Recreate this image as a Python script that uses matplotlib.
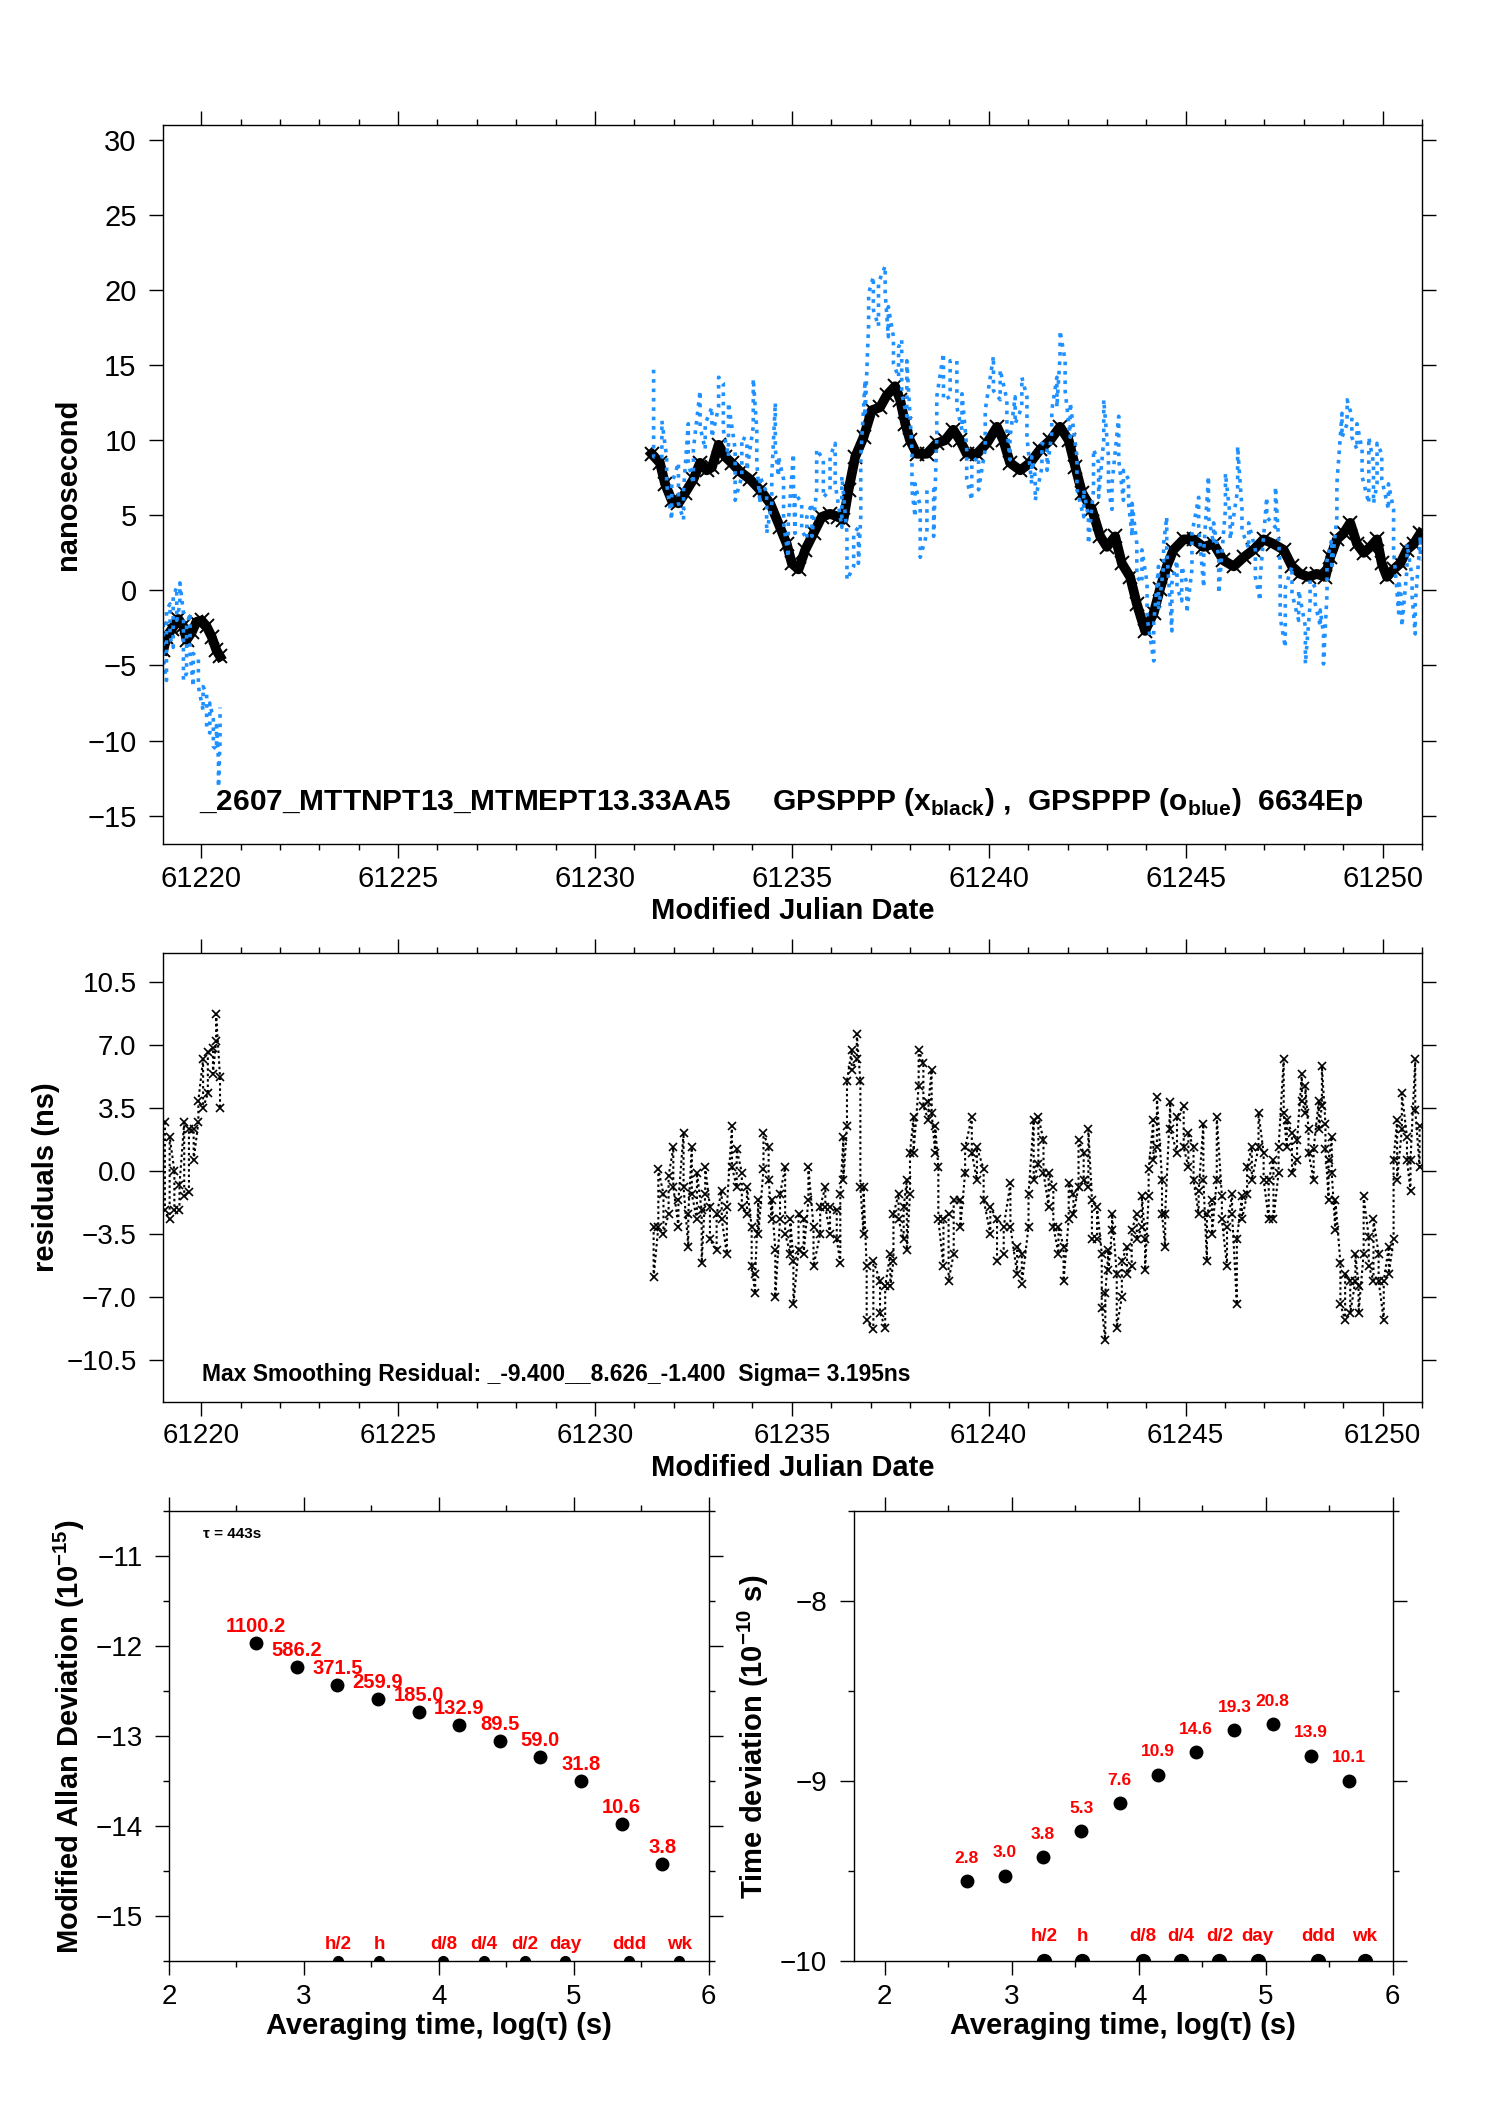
import numpy as np
import matplotlib
matplotlib.use('Agg')
import matplotlib.pyplot as plt
from matplotlib.ticker import MultipleLocator, FixedLocator, FuncFormatter

plt.rcParams['font.family'] = ['Liberation Sans', 'DejaVu Sans']
plt.rcParams['mathtext.fontset'] = 'custom'
plt.rcParams['mathtext.rm'] = 'Liberation Sans'
plt.rcParams['mathtext.bf'] = 'Liberation Sans:bold'

# ---- top panel: GPSPPP black (x) series (MJD, ns)
black_day = [61219.04, 61219.12, 61219.25, 61219.42, 61219.55, 61219.63, 61219.76, 61219.88,
             61220.01, 61220.14, 61220.27, 61220.39, 61220.48,
             61231.44, 61231.65, 61231.78, 61231.95, 61232.12, 61232.29, 61232.50, 61232.67,
             61232.84, 61232.97, 61233.14, 61233.31, 61233.47, 61233.69, 61233.94, 61234.19,
             61234.45, 61234.70, 61234.87, 61235.00, 61235.17, 61235.34, 61235.55, 61235.76,
             61235.97, 61236.18, 61236.31, 61236.44, 61236.61, 61236.82, 61237.03, 61237.24,
             61237.41, 61237.62, 61237.75, 61237.88, 61238.00, 61238.17, 61238.43, 61238.68,
             61238.89, 61239.10, 61239.27, 61239.44, 61239.70, 61239.95, 61240.21, 61240.37,
             61240.54, 61240.80, 61241.05, 61241.31, 61241.56, 61241.81, 61242.03, 61242.20,
             61242.37, 61242.62, 61242.83, 61243.00, 61243.21, 61243.38, 61243.59, 61243.76,
             61243.97, 61244.19, 61244.35, 61244.52, 61244.69, 61244.95, 61245.20, 61245.45,
             61245.71, 61245.96, 61246.22, 61246.47, 61246.72, 61246.98, 61247.23, 61247.49,
             61247.70, 61247.91, 61248.12, 61248.33, 61248.55, 61248.67, 61248.84, 61249.01,
             61249.18, 61249.35, 61249.52, 61249.69, 61249.86, 61249.98, 61250.11, 61250.28,
             61250.45, 61250.62, 61250.79, 61250.96]
black_ns = [-4.0, -3.1, -2.6, -1.9, -2.4, -3.3, -2.8, -2.1,
            -2.0, -2.4, -3.1, -4.0, -4.4,
            9.1, 8.5, 7.1, 6.0, 5.8, 6.5, 7.4, 8.5,
            8.0, 8.2, 9.7, 8.9, 8.5, 7.9, 7.4, 6.7,
            5.8, 4.2, 3.1, 1.8, 1.4, 2.7, 3.8, 4.9,
            5.1, 4.9, 4.7, 6.7, 8.9, 10.2, 12.0, 12.2,
            13.0, 13.6, 12.7, 11.1, 10.0, 9.1, 9.1, 9.8,
            10.0, 10.7, 10.0, 9.1, 9.1, 9.8, 10.9, 10.0,
            8.5, 8.0, 8.5, 9.4, 10.0, 10.9, 10.0, 8.2,
            6.5, 5.4, 3.6, 2.9, 3.6, 1.8, 0.9, -0.9,
            -2.7, -1.5, 0.1, 1.6, 2.7, 3.4, 3.4, 2.9,
            3.1, 2.0, 1.6, 2.2, 2.7, 3.4, 3.1, 2.7,
            1.6, 1.1, 0.9, 1.1, 0.9, 2.2, 3.4, 3.8,
            4.5, 3.1, 2.5, 2.9, 3.4, 1.8, 0.9, 1.4,
            1.8, 2.7, 3.1, 3.8]

# ---- top panel: GPSPPP blue (o) series, vertical streaks (MJD, top, bottom in ns)
blue_day = [61219.04, 61219.12, 61219.21, 61219.29, 61219.38, 61219.46, 61219.55, 61219.63,
            61219.72, 61219.80, 61219.93, 61220.05, 61220.14, 61220.22, 61220.31, 61220.39,
            61220.44, 61220.48,
            61231.49, 61231.70, 61231.82, 61231.95, 61232.12, 61232.25, 61232.37, 61232.50,
            61232.67, 61232.80, 61232.97, 61233.14, 61233.26, 61233.39, 61233.56, 61233.73,
            61233.86, 61234.02, 61234.11, 61234.19, 61234.36, 61234.49, 61234.58, 61234.66,
            61234.79, 61234.91, 61235.04, 61235.08, 61235.25, 61235.38, 61235.51, 61235.63,
            61235.80, 61235.97, 61236.10, 61236.27, 61236.40, 61236.57, 61236.69, 61236.75,
            61236.86, 61236.95, 61237.07, 61237.20, 61237.37, 61237.45, 61237.58, 61237.71,
            61237.79, 61237.92, 61238.05, 61238.13, 61238.26, 61238.43, 61238.60, 61238.68,
            61238.85, 61239.02, 61239.19, 61239.32, 61239.44, 61239.57, 61239.74, 61239.91,
            61240.12, 61240.29, 61240.46, 61240.54, 61240.67, 61240.84, 61240.97, 61241.09,
            61241.18, 61241.35, 61241.48, 61241.60, 61241.73, 61241.81, 61241.94, 61242.07,
            61242.24, 61242.41, 61242.53, 61242.66, 61242.79, 61242.92, 61243.04, 61243.13,
            61243.30, 61243.42, 61243.55, 61243.64, 61243.76, 61243.89, 61244.02, 61244.19,
            61244.31, 61244.44, 61244.52, 61244.65, 61244.78, 61244.90, 61245.03, 61245.16,
            61245.33, 61245.46, 61245.58, 61245.71, 61245.84, 61246.01, 61246.13, 61246.32,
            61246.43, 61246.60, 61246.77, 61246.89, 61247.06, 61247.28, 61247.40, 61247.53,
            61247.70, 61247.87, 61248.04, 61248.16, 61248.29, 61248.42, 61248.50, 61248.59,
            61248.71, 61248.84, 61248.97, 61249.10, 61249.22, 61249.35, 61249.48, 61249.65,
            61249.77, 61249.86, 61249.98, 61250.15, 61250.28, 61250.41, 61250.49, 61250.62,
            61250.75, 61250.83, 61250.96]
blue_hi = [-2.2, -1.3, -0.9, -0.4, 0.2, 0.5, -1.5, -2.4,
           -1.5, -4.2, -4.6, -6.4, -6.9, -7.5, -8.6, -9.0,
           -11.3, -7.8,
           14.7, 11.3, 8.9, 7.1, 8.5, 6.7, 11.1, 9.4,
           13.3, 11.1, 12.2, 14.2, 13.8, 12.5, 9.4, 10.2,
           10.0, 14.1, 10.7, 7.6, 6.5, 7.6, 12.5, 8.9,
           7.4, 4.5, 9.1, 6.5, 5.8, 4.9, 5.8, 9.4,
           8.7, 8.9, 9.8, 7.6, 3.8, 3.8, 4.2, 8.9,
           14.0, 19.8, 20.9, 20.5, 21.6, 18.9, 16.9, 16.2,
           16.7, 15.3, 9.4, 7.1, 5.6, 6.7, 6.7, 12.9,
           15.8, 15.3, 15.3, 13.1, 9.6, 8.5, 8.9, 12.0,
           15.6, 14.7, 12.7, 10.2, 12.9, 14.2, 12.9, 8.9,
           7.6, 9.8, 9.6, 12.0, 14.2, 17.3, 15.3, 12.5,
           8.9, 6.7, 4.9, 9.4, 8.5, 12.7, 8.9, 7.1,
           11.6, 8.0, 7.4, 5.8, 3.1, 2.7, 0.5, -2.2,
           1.6, 3.1, 4.9, 0.5, 2.0, 1.6, 0.5, 3.8,
           6.2, 2.7, 7.6, 4.5, 2.2, 7.8, 4.9, 9.6,
           5.4, 4.5, 2.7, 0.7, 6.2, 6.9, 1.6, 0.2,
           1.6, 0.0, -2.4, 0.7, 0.2, -1.3, -2.9, 2.0,
           3.4, 7.1, 11.8, 12.7, 11.6, 11.1, 9.4, 10.2,
           8.5, 9.8, 9.1, 7.1, 5.4, 0.7, -0.7, 3.1,
           0.9, -0.9, 3.6]
blue_lo = [-4.6, -6.0, -3.1, -3.8, -2.0, -0.9, -6.0, -5.5,
           -4.2, -6.4, -6.4, -8.0, -9.1, -9.5, -10.4, -10.6,
           -13.1, -10.0,
           8.9, 8.9, 7.1, 4.7, 5.8, 4.7, 8.5, 7.1,
           10.9, 9.4, 10.2, 12.2, 10.7, 8.9, 6.0, 7.6,
           8.0, 10.9, 8.5, 5.8, 3.8, 5.8, 9.4, 7.6,
           4.5, 2.2, 7.1, 3.8, 4.0, 3.4, 3.6, 6.7,
           6.2, 6.7, 7.1, 4.2, 0.7, 1.6, 1.8, 4.9,
           11.6, 17.8, 18.7, 17.6, 19.8, 16.9, 15.1, 14.2,
           13.1, 11.6, 6.7, 4.9, 2.2, 3.8, 3.6, 10.2,
           12.7, 12.9, 12.2, 10.7, 7.4, 6.0, 6.7, 9.4,
           13.3, 12.7, 10.7, 8.7, 11.1, 12.2, 10.2, 7.1,
           6.0, 8.2, 8.0, 10.5, 12.2, 15.6, 13.3, 10.2,
           6.7, 4.9, 3.1, 6.7, 6.2, 10.0, 6.7, 5.4,
           8.7, 6.0, 5.8, 3.6, 0.9, 0.5, -1.8, -4.7,
           -1.3, 1.6, 2.7, -2.7, 0.2, -0.7, -1.5, 1.4,
           4.2, 0.2, 4.9, 3.1, -0.2, 5.4, 3.4, 6.7,
           4.0, 2.8, 0.9, -0.7, 4.9, 4.2, -1.8, -3.8,
           -0.2, -2.0, -4.9, -0.9, -0.9, -2.4, -4.9, -0.2,
           1.4, 4.9, 10.2, 11.1, 10.2, 9.4, 7.6, 5.8,
           5.8, 7.1, 7.4, 5.4, 2.7, -1.5, -2.4, 1.4,
           -0.4, -2.9, 2.0]

# ---- middle panel: smoothing residuals, vertical streaks (MJD, top, bottom in ns)
res_day = [61219.08, 61219.20, 61219.32, 61219.45, 61219.57, 61219.69, 61219.81, 61219.93,
           61220.05, 61220.17, 61220.30, 61220.38, 61220.48,
           61231.49, 61231.61, 61231.74, 61231.87, 61231.99, 61232.12, 61232.25, 61232.37,
           61232.46, 61232.59, 61232.71, 61232.80, 61232.92, 61233.09, 61233.22, 61233.35,
           61233.48, 61233.60, 61233.73, 61233.86, 61233.98, 61234.07, 61234.15, 61234.28,
           61234.41, 61234.49, 61234.58, 61234.70, 61234.83, 61234.96, 61235.04, 61235.17,
           61235.30, 61235.42, 61235.55, 61235.72, 61235.85, 61235.97, 61236.14, 61236.23,
           61236.31, 61236.40, 61236.52, 61236.65, 61236.74, 61236.82, 61236.90, 61237.07,
           61237.24, 61237.37, 61237.50, 61237.58, 61237.71, 61237.84, 61237.92, 61238.00,
           61238.09, 61238.22, 61238.34, 61238.47, 61238.55, 61238.64, 61238.72, 61238.85,
           61238.98, 61239.11, 61239.28, 61239.40, 61239.57, 61239.70, 61239.87, 61240.04,
           61240.21, 61240.38, 61240.55, 61240.72, 61240.84, 61241.01, 61241.14, 61241.26,
           61241.39, 61241.52, 61241.64, 61241.77, 61241.90, 61242.03, 61242.15, 61242.28,
           61242.41, 61242.53, 61242.62, 61242.75, 61242.87, 61242.96, 61243.04, 61243.13,
           61243.25, 61243.38, 61243.51, 61243.63, 61243.76, 61243.89, 61243.97, 61244.06,
           61244.18, 61244.27, 61244.40, 61244.48, 61244.61, 61244.78, 61244.95, 61245.07,
           61245.20, 61245.33, 61245.45, 61245.54, 61245.67, 61245.79, 61245.92, 61246.05,
           61246.18, 61246.30, 61246.43, 61246.56, 61246.68, 61246.85, 61246.98, 61247.11,
           61247.23, 61247.36, 61247.49, 61247.57, 61247.70, 61247.83, 61247.95, 61248.04,
           61248.12, 61248.25, 61248.38, 61248.46, 61248.55, 61248.63, 61248.71, 61248.80,
           61248.93, 61249.05, 61249.18, 61249.31, 61249.39, 61249.52, 61249.65, 61249.77,
           61249.90, 61250.03, 61250.16, 61250.28, 61250.37, 61250.49, 61250.62, 61250.71,
           61250.83, 61250.94]
res_hi = [2.7, 1.9, 0.0, -0.8, 2.7, 2.3, 2.3, 3.9,
          6.2, 6.6, 6.8, 8.7, 5.2,
          -3.1, 0.1, -1.3, -0.3, 1.3, -1.6, 2.1, -2.4,
          1.3, -0.1, -2.2, 0.2, -2.0, -2.4, -1.1, -2.0,
          2.5, 1.2, -0.1, -0.9, -3.1, -5.7, -1.6, 2.1,
          1.3, -1.6, -4.4, -1.3, 0.2, -2.7, -5.0, -2.4,
          -2.7, 0.2, -3.1, -2.0, -0.9, -2.0, -2.2, -1.3,
          1.9, 5.0, 6.7, 7.6, 5.0, -0.9, -5.3, -5.0,
          -6.1, -6.4, -4.6, -2.4, -1.3, -2.0, -0.5, 1.0,
          3.0, 6.7, 6.0, 3.8, 5.6, 2.5, 0.2, -2.7,
          -2.4, -1.6, -1.6, 1.3, 3.0, 1.3, 0.1, -2.0,
          -2.7, -3.1, -0.7, -4.2, -4.6, -1.3, 2.8, 3.0,
          1.7, -0.1, -0.9, -3.1, -4.2, -0.7, -1.3, 1.7,
          1.0, 2.3, -1.6, -2.0, -4.6, -6.8, -4.4, -2.4,
          -5.7, -5.0, -4.2, -3.3, -2.4, -1.4, -3.8, 0.1,
          2.8, 4.1, -0.5, -2.4, 3.8, 3.0, 3.6, 2.1,
          1.3, -1.1, 2.6, -2.4, -1.6, 3.0, -1.4, -3.1,
          -1.3, -3.8, -1.4, 0.2, 1.3, 3.2, 1.0, -0.5,
          0.6, 1.3, 6.2, 2.8, 2.1, 1.7, 5.4, 4.7,
          2.3, 1.2, 3.9, 5.8, 2.6, 0.6, 1.9, -1.6,
          -5.1, -5.7, -6.1, -4.6, -6.4, -1.4, -3.7, -2.7,
          -4.6, -6.1, -4.2, 0.6, 2.8, 4.3, 1.9, 0.6,
          6.2, 2.5]
res_lo = [-2.2, -2.7, -2.2, -2.2, -1.4, -1.2, 0.6, 2.7,
          3.5, 4.3, 5.4, 7.2, 3.5,
          -5.9, -3.1, -3.5, -2.4, -0.9, -3.1, -0.9, -4.2,
          -1.3, -2.7, -5.1, -1.3, -3.8, -4.4, -2.7, -4.6,
          0.2, -0.9, -2.0, -2.4, -5.3, -6.8, -3.5, 0.1,
          -0.5, -2.7, -7.0, -2.7, -3.5, -4.6, -7.4, -4.4,
          -4.6, -1.6, -5.3, -3.5, -2.0, -3.5, -3.8, -5.1,
          -0.5, 2.5, 5.6, 6.2, -0.9, -3.5, -8.3, -8.8,
          -7.9, -8.7, -6.4, -5.0, -2.7, -3.8, -4.4, -1.3,
          1.0, 4.7, 3.6, 2.8, 3.2, 1.0, -2.7, -5.3,
          -6.1, -4.6, -3.1, -0.1, 1.0, -0.5, -1.6, -3.5,
          -5.0, -4.6, -3.1, -5.7, -6.3, -3.1, -0.5, 0.4,
          -0.1, -2.0, -3.1, -4.6, -6.1, -2.7, -2.4, -0.9,
          -0.5, -0.9, -3.8, -3.8, -7.6, -9.4, -5.5, -3.3,
          -8.7, -7.0, -5.7, -5.3, -3.8, -3.1, -5.5, -1.4,
          0.6, 1.3, -2.4, -4.2, 2.3, 1.0, 1.3, 0.2,
          -0.5, -2.4, -0.5, -5.0, -3.5, -0.5, -2.7, -5.3,
          -2.4, -7.4, -2.7, -1.3, -0.5, 1.3, -0.5, -2.7,
          -2.7, -0.1, 3.2, 1.3, -0.1, 0.6, 3.9, 3.2,
          1.0, -0.5, 2.3, 3.6, 1.2, -1.6, -0.1, -3.3,
          -7.4, -8.3, -7.9, -6.1, -7.9, -4.6, -5.3, -6.1,
          -6.1, -8.3, -5.7, -3.8, -0.5, 2.3, 0.6, -1.1,
          3.4, 0.2]

# ---- bottom panels: stability statistics
tau_s = [443, 886, 1772, 3544, 7088, 14176, 28352, 56704, 113408, 226816, 453632]
madev_e15 = [1100.2, 586.2, 371.5, 259.9, 185.0, 132.9, 89.5, 59.0, 31.8, 10.6, 3.8]
tdev_e10 = [2.8, 3.0, 3.8, 5.3, 7.6, 10.9, 14.6, 19.3, 20.8, 13.9, 10.1]
mark_s = [1800, 3600, 10800, 21600, 43200, 86400, 259200, 604800]
mark_lbl = ['h/2', 'h', 'd/8', 'd/4', 'd/2', 'day', 'ddd', 'wk']

BLUE = '#1E90FF'
MINUS = '\u2212'


def split_gaps(x, *cols, gap=2.0):
    """cut series where the MJD jumps (data gap)"""
    x = np.asarray(x)
    cut = np.where(np.diff(x) > gap)[0] + 1
    parts = [np.split(np.asarray(c, dtype=float), cut) for c in (x,) + cols]
    return list(zip(*parts))


def zigzag(day, hi, lo):
    """walk through the streak ends: top, bottom, bottom, top ..."""
    xs, ys = [], []
    for i, (d, h, l) in enumerate(zip(day, hi, lo)):
        xs += [d, d]
        ys += [h, l] if i % 2 == 0 else [l, h]
    return xs, ys


def style(ax, size, ypad, xpad):
    for s in ax.spines.values():
        s.set_linewidth(1.0)
    ax.tick_params(which='both', direction='out', top=True, right=True, width=1.0,
                   labelsize=size)
    ax.tick_params(which='major', length=10)
    ax.tick_params(which='minor', length=4.5)
    ax.tick_params(axis='y', pad=ypad)
    ax.tick_params(axis='x', pad=xpad)


fig = plt.figure(figsize=(14.88, 21.05), dpi=100)
ax1 = fig.add_axes([0.1095, 0.5990, 0.8461, 0.3416])
ax2 = fig.add_axes([0.1095, 0.3340, 0.8461, 0.2133])
ax3 = fig.add_axes([0.1136, 0.0682, 0.3626, 0.2138])
ax4 = fig.add_axes([0.5737, 0.0682, 0.3622, 0.2138])

# === top: time offsets ===
for d, v in split_gaps(black_day, black_ns):
    ax1.plot(d, v, color='black', lw=7, marker='x', ms=10, mew=1.4)
for d, h, l in split_gaps(blue_day, blue_hi, blue_lo):
    zx, zy = zigzag(d, h, l)
    ax1.plot(zx, zy, color=BLUE, lw=2.6, ls=(0, (1, 1.6)))

ax1.set_xlim(61219.03, 61251.0)
ax1.set_ylim(-16.9, 31.0)
ax1.xaxis.set_major_locator(MultipleLocator(5))
ax1.xaxis.set_minor_locator(MultipleLocator(1))
ax1.yaxis.set_major_locator(MultipleLocator(5))
ax1.xaxis.set_major_formatter(FuncFormatter(lambda v, p: f'{v:.0f}'))
style(ax1, 21, 9, 5)
ax1.set_ylabel('nanosecond', fontsize=21, fontweight='bold')
ax1.yaxis.set_label_coords(-0.064, 0.5)
ax1.set_xlabel('Modified Julian Date', fontsize=21, fontweight='bold')
ax1.xaxis.set_label_coords(0.5, -0.074)
ax1.text(0.029, 0.047,
         r'_2607_MTTNPT13_MTMEPT13.33AA5     GPSPPP (x$_{\mathbf{black}}$) ,  '
         r'GPSPPP (o$_{\mathbf{blue}}$)  6634Ep',
         transform=ax1.transAxes, fontsize=21.5, fontweight='bold')

# === middle: residuals ===
for d, h, l in split_gaps(res_day, res_hi, res_lo):
    zx, zy = zigzag(d, h, l)
    ax2.plot(zx, zy, color='black', lw=1.5, ls=(0, (1.2, 1.4)),
             marker='x', ms=6, mew=1.2)

ax2.set_xlim(61219.03, 61251.0)
ax2.set_ylim(-12.83, 12.1)
ax2.xaxis.set_major_locator(MultipleLocator(5))
ax2.xaxis.set_minor_locator(MultipleLocator(1))
ax2.yaxis.set_major_locator(FixedLocator([-10.5, -7.0, -3.5, 0.0, 3.5, 7.0, 10.5]))
ax2.xaxis.set_major_formatter(FuncFormatter(lambda v, p: f'{v:.0f}'))
ax2.yaxis.set_major_formatter(FuncFormatter(lambda v, p: f'{v:.1f}'.replace('-', MINUS)))
style(ax2, 20, 9, 5)
ax2.set_ylabel('residuals (ns)', fontsize=21, fontweight='bold')
ax2.yaxis.set_label_coords(-0.082, 0.5)
ax2.set_xlabel('Modified Julian Date', fontsize=21, fontweight='bold')
ax2.xaxis.set_label_coords(0.5, -0.116)
ax2.text(0.031, 0.047,
         'Max Smoothing Residual: _-9.400__8.626_-1.400  Sigma= 3.195ns',
         transform=ax2.transAxes, fontsize=16.5, fontweight='bold')

# === bottom: MDEV and TDEV ===
logtau = np.log10(tau_s)
panels = [
    (ax3, np.log10(np.array(madev_e15) * 1e-15), madev_e15, (2.0, 6.0), (-15.5, -10.5),
     'Modified Allan Deviation (10$^{\\mathbf{-15}}$)', 14.5, 5, 7, 6),
    (ax4, np.log10(np.array(tdev_e10) * 1e-10), tdev_e10, (1.756, 6.0), (-10.0, -7.5),
     'Time deviation (10$^{\\mathbf{-10}}$ s)', 12.5, 11, 10, 12),
]
for ax, yv, lbl, xl, yl, ylab, lsize, loff, dot_ms, moff in panels:
    ax.set_xlim(*xl)
    ax.set_ylim(*yl)
    ax.plot(logtau, yv, 'o', color='black', ms=9, ls='none')
    for x, y, v in zip(logtau, yv, lbl):
        ax.annotate(f'{v:.1f}', (x, y), xytext=(0, loff), textcoords='offset points',
                    ha='center', va='bottom', color='red', fontsize=lsize,
                    fontweight='bold')
    floor = ax.get_ylim()[0]
    mx = np.log10(mark_s)
    ax.plot(mx, np.full(len(mx), floor), 'o', color='black', ms=dot_ms, ls='none',
            clip_on=True)
    for x, t in zip(mx, mark_lbl):
        ax.annotate(t, (x, floor), xytext=(0, moff), textcoords='offset points',
                    ha='center', va='bottom', color='red', fontsize=13.5,
                    fontweight='bold')
    ax.xaxis.set_major_locator(MultipleLocator(1))
    ax.xaxis.set_minor_locator(MultipleLocator(0.5))
    ax.yaxis.set_major_locator(MultipleLocator(1))
    ax.yaxis.set_minor_locator(MultipleLocator(0.5))
    ax.xaxis.set_major_formatter(FuncFormatter(lambda v, p: f'{v:.0f}'))
    ax.yaxis.set_major_formatter(FuncFormatter(lambda v, p: f'{v:.0f}'.replace('-', MINUS)))
    style(ax, 20, 9, 6)
    ax.set_ylabel(ylab, fontsize=21, fontweight='bold')
    ax.set_xlabel('Averaging time, log(\u03c4) (s)', fontsize=21, fontweight='bold')
    ax.xaxis.set_label_coords(0.5, -0.112)

ax3.yaxis.set_label_coords(-0.152, 0.5)
ax4.yaxis.set_label_coords(-0.153, 0.5)
ax3.text(0.063, 0.965, '\u03c4 = 443s', transform=ax3.transAxes, fontsize=11,
         fontweight='bold', va='top')

fig.savefig('out.png', dpi=100)
